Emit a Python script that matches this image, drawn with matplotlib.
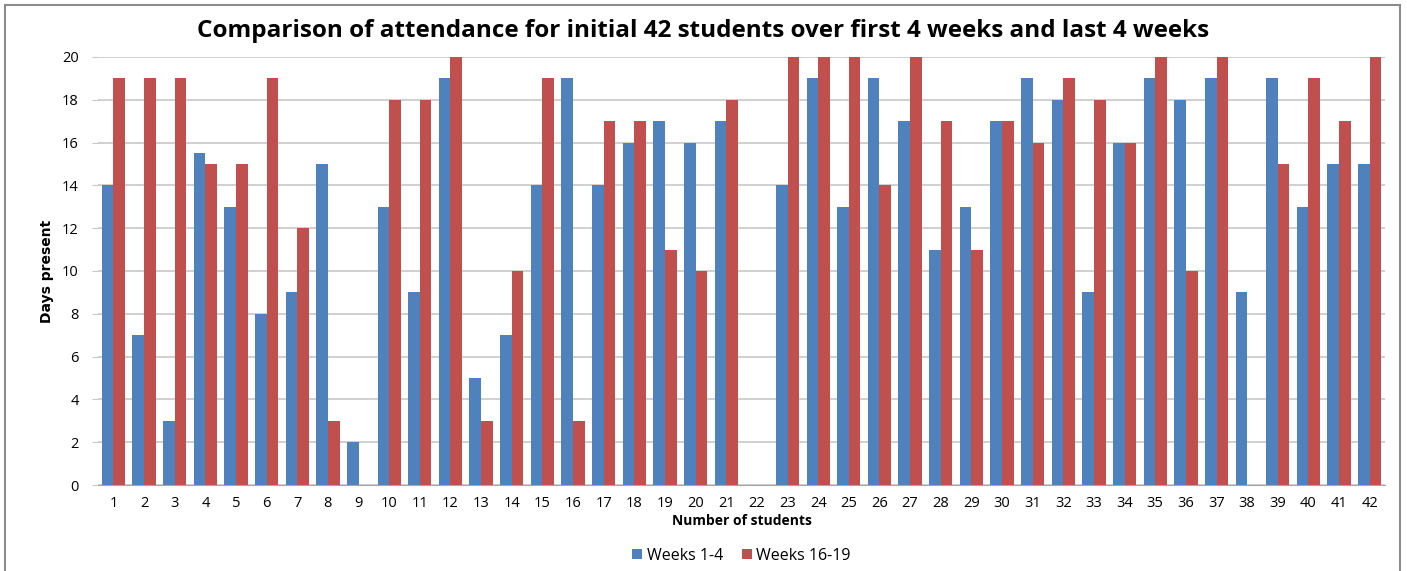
import numpy as np
import matplotlib
matplotlib.use("Agg")
import matplotlib.pyplot as plt
from matplotlib.patches import Rectangle

# data
students = [str(i) for i in range(1, 43)]
weeks_1_4 = [14, 7, 3, 15.5, 13, 8, 9, 15, 2, 13, 9, 19, 5, 7, 14, 19, 14, 16, 17, 16, 17,
             0, 14, 19, 13, 19, 17, 11, 13, 17, 19, 18, 9, 16, 19, 18, 19, 9, 19, 13, 15, 15]
weeks_16_19 = [19, 19, 19, 15, 15, 19, 12, 3, 0, 18, 18, 20, 3, 10, 19, 3, 17, 17, 11, 10, 18,
               0, 20, 20, 20, 14, 20, 17, 11, 17, 16, 19, 18, 16, 20, 10, 20, 0, 15, 19, 17, 20]
y_ticks = list(range(0, 21, 2))

plt.rcParams['font.family'] = ['Open Sans', 'DejaVu Sans']

fig = plt.figure(figsize=(14.07, 5.71), dpi=100)
ax = fig.add_axes([0.0697, 0.1506, 0.9147, 0.7496])

# outer chart frame
fig.patches.append(Rectangle((5 / 1407, -0.05), 1395 / 1407, 1 - 5 / 571 + 0.05,
                             transform=fig.transFigure, fill=False,
                             edgecolor='#8c8c8c', linewidth=1.5))

x = np.arange(len(students))
w = 0.38
ax.bar(x - w / 2, weeks_1_4, w, color='#4F81BD', label='Weeks 1-4')
ax.bar(x + w / 2, weeks_16_19, w, color='#C0504D', label='Weeks 16-19')

ax.set_xlim(-0.5, len(students) - 0.5)
ax.set_ylim(0, 20)
ax.set_yticks(y_ticks)
ax.set_xticks(x)
ax.set_xticklabels(students)
ax.yaxis.grid(True, color='#c8c8c8', linewidth=1.2)
ax.set_axisbelow(True)
for s in ['top', 'right', 'left']:
    ax.spines[s].set_visible(False)
ax.spines['bottom'].set_color('#a6a6a6')
ax.tick_params(axis='y', length=4, color='#c8c8c8', labelsize=10.5, pad=10)
ax.tick_params(axis='x', length=0, labelsize=10.5, pad=8)

ax.set_xlabel('Number of students', fontsize=10, fontweight='bold', labelpad=2)
ax.set_ylabel('Days present', fontsize=10, fontweight='bold', family='Liberation Sans Narrow',
              labelpad=6)
fig.text(0.5, 0.946, 'Comparison of attendance for initial 42 students over first 4 weeks and last 4 weeks',
         ha='center', va='center', fontsize=17.5, fontweight='bold')

ax.legend(loc='center', bbox_to_anchor=(0.5, -0.166), ncol=2, frameon=False,
          fontsize=11.5, handlelength=0.6, handleheight=0.6, handletextpad=0.3,
          columnspacing=1.2)

fig.savefig('out.png', dpi=100)
